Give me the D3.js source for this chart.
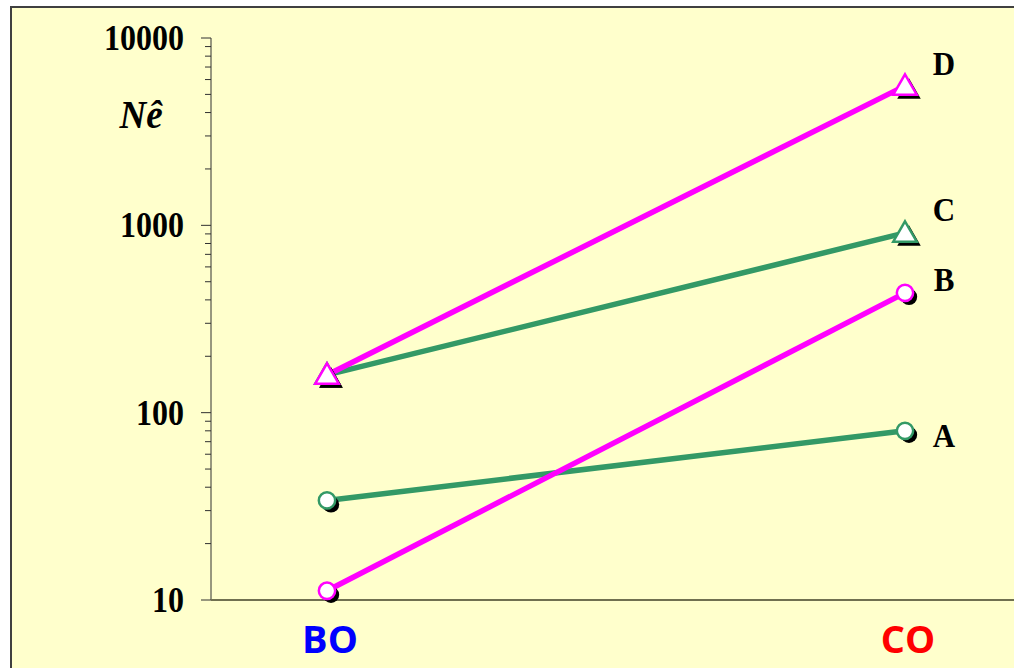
<!DOCTYPE html>
<html><head><meta charset="utf-8">
<script src="https://cdn.jsdelivr.net/npm/d3@7"></script>
<style>body{margin:0;background:#fff;}svg{display:block;}</style>
</head><body>
<svg id="c" width="1014" height="668"></svg>
<script>
const categories = ["BO", "CO"];
const categoryColors = ["#0000FF", "#FF0000"];
const seriesNames = ["A", "B", "C", "D"];
const seriesA = [34, 80];
const seriesB = [11.2, 436];
const seriesC = [159, 911];
const seriesD = [159, 5550];
const seriesColors = ["#339966", "#FF00FF", "#339966", "#FF00FF"];
const seriesShapes = ["circle", "circle", "triangle", "triangle"];
const yTicks = [10, 100, 1000, 10000];
const yLabel = "Nê";

const series = [seriesA, seriesB, seriesC, seriesD].map((v, i) => ({
  name: seriesNames[i], values: v, color: seriesColors[i], shape: seriesShapes[i]
}));

const serif = "Liberation Serif, Times New Roman, serif";
const svg = d3.select("#c");
svg.append("rect").attr("x", 11).attr("y", 7).attr("width", 1010).attr("height", 670)
  .attr("fill", "#FFFFCC").attr("stroke", "#404040").attr("stroke-width", 2);

const y = d3.scaleLog().domain([10, 10000]).range([600, 38]);
const x = d3.scalePoint().domain(categories).range([327, 905]);

// y axis
const yAxis = svg.append("g").attr("transform", "translate(211,0)");
yAxis.append("line").attr("x1", 0).attr("x2", 0).attr("y1", y(10000)).attr("y2", y(10))
  .attr("stroke", "#303030").attr("stroke-width", 1);
const minor = [];
for (let d = 10; d < 10000; d *= 10) for (let k = 2; k <= 9; k++) minor.push(d * k);
yAxis.selectAll("line.minor").data(minor).join("line").attr("class", "minor")
  .attr("x1", -6).attr("x2", 0).attr("y1", d => y(d)).attr("y2", d => y(d))
  .attr("stroke", "#303030").attr("stroke-width", 1);
yAxis.selectAll("line.major").data(yTicks).join("line").attr("class", "major")
  .attr("x1", -10).attr("x2", 0).attr("y1", d => y(d)).attr("y2", d => y(d))
  .attr("stroke", "#303030").attr("stroke-width", 1);
svg.selectAll("text.ytick").data(yTicks).join("text").attr("class", "ytick")
  .attr("transform", d => `translate(184,${y(d) + 12}) scale(1,1.1)`)
  .attr("text-anchor", "end")
  .attr("font-family", serif).attr("font-weight", "bold")
  .attr("font-size", 32).attr("fill", "#000").text(d => d);

// x axis
svg.append("line").attr("x1", 211).attr("x2", 1014).attr("y1", 600).attr("y2", 600)
  .attr("stroke", "#707050").attr("stroke-width", 2);
svg.selectAll("text.xcat").data(categories).join("text").attr("class", "xcat")
  .attr("x", d => x(d) + 3).attr("y", 653).attr("text-anchor", "middle")
  .attr("font-family", "Open Sans, Noto Sans, sans-serif").attr("font-weight", "bold")
  .attr("font-size", 38).attr("fill", (d, i) => categoryColors[i]).text(d => d);

svg.append("text").attr("transform", "translate(141,128) scale(1,1.1)").attr("text-anchor", "middle")
  .attr("font-family", serif).attr("font-weight", "bold")
  .attr("font-style", "italic").attr("font-size", 37).text(yLabel);

const line = d3.line().x((d, i) => x(categories[i])).y(d => y(d));
const sym = s => d3.symbol().type(s === "circle" ? d3.symbolCircle : d3.symbolTriangle).size(s === "circle" ? 210 : 240)();

series.forEach(s => {
  svg.append("path").attr("d", line(s.values)).attr("fill", "none")
    .attr("stroke", s.color).attr("stroke-width", 5.5);
});
series.forEach(s => {
  s.values.forEach((v, i) => {
    const cx = x(categories[i]), cy = y(v);
    const dy = s.shape === "triangle" ? 2 : 0;
    svg.append("path").attr("d", sym(s.shape)).attr("transform", `translate(${cx + 4},${cy + 4 + dy})`)
      .attr("fill", "#000");
    svg.append("path").attr("d", sym(s.shape)).attr("transform", `translate(${cx},${cy + dy})`)
      .attr("fill", "#fff").attr("stroke", s.color).attr("stroke-width", 2.5);
  });
});

const labelY = {A: 447, B: 291, C: 221, D: 75};
svg.selectAll("text.sname").data(series).join("text").attr("class", "sname")
  .attr("transform", d => `translate(944,${labelY[d.name]}) scale(1,1.12)`).attr("text-anchor", "middle")
  .attr("font-family", serif).attr("font-weight", "bold")
  .attr("font-size", 31).text(d => d.name);
</script>
</body></html>
